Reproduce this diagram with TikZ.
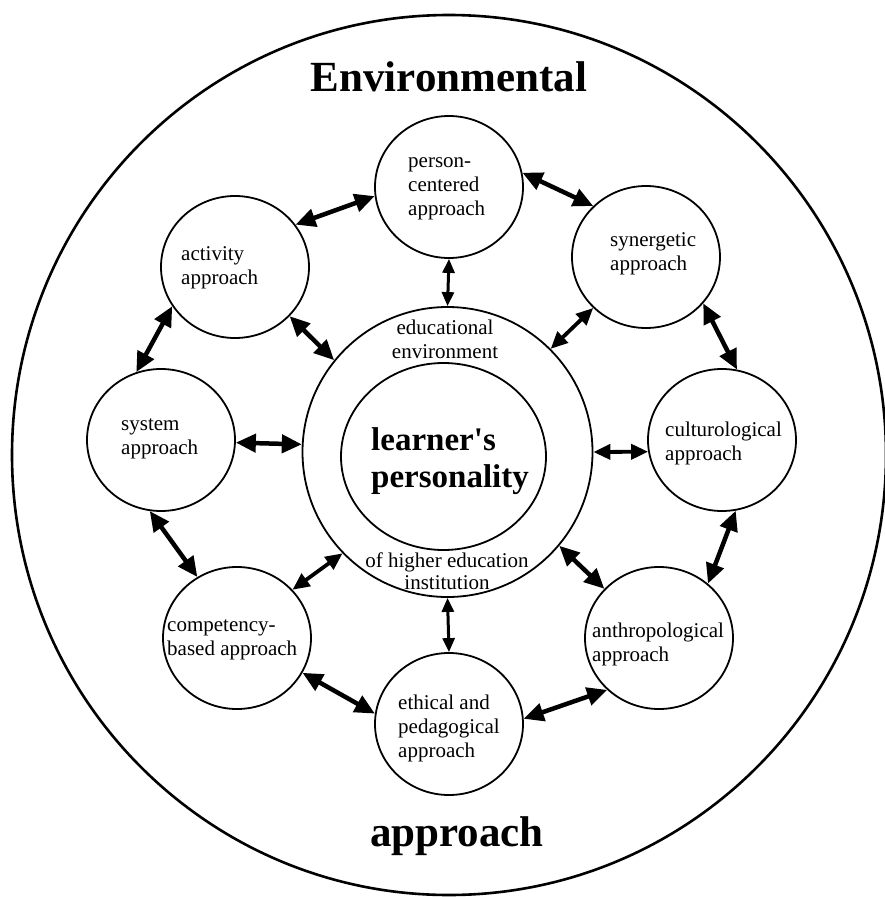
\documentclass[tikz,border=0pt]{standalone}
\usepackage{fontspec}
\setmainfont{Liberation Serif}
\usetikzlibrary{arrows.meta,shapes.geometric}
\newcommand{\mylines}[2][l]{\begin{tabular}[t]{@{}#1@{}}#2\end{tabular}}
\tikzset{
  sat/.style={draw, ellipse, line width=1.8pt, minimum width=148pt, minimum height=142pt, inner sep=0pt},
  txt/.style={inner sep=0pt, anchor=base west, font=\fontsize{21}{24}\selectfont},
  ctxt/.style={inner sep=0pt, anchor=base, font=\fontsize{21}{24}\selectfont},
  big/.style={inner sep=0pt, anchor=base, font=\fontsize{43}{48}\selectfont\bfseries},
  dbl/.style={line width=4.5pt, {Triangle[length=20pt,width=18pt]}-{Triangle[length=20pt,width=18pt]}},
  mid/.style={line width=3.8pt, {Triangle[length=17pt,width=15pt]}-{Triangle[length=17pt,width=15pt]}},
  thin/.style={line width=3pt, {Triangle[length=14pt,width=12pt]}-{Triangle[length=14pt,width=12pt]}}
}
\begin{document}
\begin{tikzpicture}[x=1pt,y=-1pt]
\useasboundingbox (0,0) rectangle (884,897);
\fill[white] (0,0) rectangle (884,897);
% outer circle
\draw[line width=2.6pt] (449,455) ellipse [x radius=437, y radius=440];
% centre
\node[draw, circle, line width=1.8pt, minimum size=290pt, inner sep=0pt] (C) at (447.5,452) {};
\node[draw, ellipse, line width=1.8pt, minimum width=205pt, minimum height=187pt, inner sep=0pt] (L) at (443.5,456.5) {};
% satellites
\node[sat] (pc) at (449,187) {};
\node[sat] (syn) at (646,257) {};
\node[sat] (act) at (235,267) {};
\node[sat] (sys) at (161,440) {};
\node[sat] (cul) at (722,440) {};
\node[sat] (comp) at (237,638) {};
\node[sat] (anth) at (659,638) {};
\node[sat] (eth) at (449,724) {};
% texts
\node[big] (tenv) at (449,91) {Environmental};
\node[big] (tapp) at (457,846) {approach};
\node[inner sep=0pt, anchor=base west, font=\fontsize{33}{37}\selectfont\bfseries] (tlp) at (371,450) {\mylines{learner\textquotesingle s\\personality}};
\node[ctxt] (tedu) at (445,334) {\mylines[c]{educational\\environment}};
\node[ctxt] (thei) at (447,567) {\mylines[c]{of higher education\\[-2pt]institution}};
\node[txt] (tpc) at (408,167) {\mylines{person-\\centered\\approach}};
\node[txt] (tact) at (181,260) {\mylines{activity\\approach}};
\node[txt] (tsyn) at (610,246) {\mylines{synergetic\\approach}};
\node[txt] (tsys) at (121,430) {\mylines{system\\approach}};
\node[txt] (tcul) at (665,436) {\mylines{culturological\\approach}};
\node[txt] (tcomp) at (167,631) {\mylines{competency-\\based approach}};
\node[txt] (tanth) at (592,637) {\mylines{anthropological\\approach}};
\node[txt] (teth) at (398,709) {\mylines{ethical and\\pedagogical\\approach}};
% arrows between neighbours
\draw[dbl] (act.35) -- (pc.187);
\draw[dbl] (pc.11) -- (syn.136);
\draw[dbl] (act.212) -- (sys.110);
\draw[dbl] (syn.321) -- (cul.78);
\draw[dbl] (sys.261) -- (comp.123);
\draw[dbl] (cul.281) -- (anth.48);
\draw[dbl] (comp.332) -- (eth.172);
\draw[dbl] (eth.4) -- (anth.225);
% arrows to centre
\draw[thin] (pc.270) -- (C.90);
\draw[thin] (eth.90) -- (C.270);
\draw[dbl] (act.318) -- (C.141);
\draw[mid] (syn.224) -- (C.45);
\draw[dbl] (sys.358) -- (C.177);
\draw[mid] (cul.189) -- (C.0);
\draw[mid] (comp.41) -- (C.224);
\draw[dbl] (anth.138) -- (C.320);
\end{tikzpicture}
\end{document}
